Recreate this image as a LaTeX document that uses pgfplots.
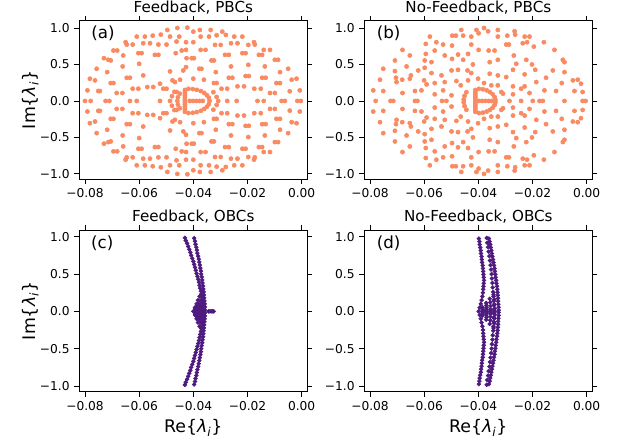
\documentclass[border=0pt]{standalone}
\usepackage{pgfplots}
\pgfplotsset{compat=1.18}
\usepackage{fontspec}
\setmainfont{DejaVu Sans}

\definecolor{pbc}{RGB}{250,138,98}
\definecolor{obc}{RGB}{78,26,128}

\newcommand{\lam}{\textit{λ}\textsubscript{\textit{i}}}

\pgfplotsset{
  panel/.style={
    scale only axis,
    width=164.2pt,
    xmin=-0.0821, xmax=0.0021,
    xtick={-0.08,-0.06,-0.04,-0.02,0},
    xticklabels={−0.08,−0.06,−0.04,−0.02,0.00},
    ytick={-1,-0.5,0,0.5,1},
    yticklabels={−1.0,−0.5,0.0,0.5,1.0},
    scaled x ticks=false,
    tick align=outside,
    major tick length=3.5pt,
    tick style={black, line width=0.6pt},
    axis line style={line width=0.6pt},
    ticklabel style={font=\fontsize{8.8}{10}\selectfont},
    every axis title/.style={at={(axis description cs:0.5,1)}, anchor=base, yshift=5.8pt,
                 font=\fontsize{10.9}{13}\selectfont},
    every axis x label/.style={at={(axis description cs:0.5,0)}, anchor=base, yshift=-29.5pt,
                  font=\fontsize{12.5}{15}\selectfont},
    every axis y label/.style={at={(axis description cs:-0.215,0.5)}, anchor=center, rotate=90,
                  font=\fontsize{12.5}{15}\selectfont},
  },
  pbcdots/.style={only marks, mark=*, mark size=1.5pt, color=pbc, mark options={draw=none, fill=pbc}},
  obcdots/.style={only marks, mark=*, mark size=1.4pt, color=obc, mark options={draw=none, fill=obc}},
  toprow/.style={height=114.0pt, ymin=-1.07, ymax=1.10},
  botrow/.style={height=116.4pt, ymin=-1.076, ymax=1.09},
}

\begin{document}
\begin{tikzpicture}
\path[use as bounding box] (0,0) rectangle (453.6pt,-320.4pt);

% ---------------- (a) Feedback, PBCs ----------------
\begin{axis}[panel, toprow, at={(57.1pt,-14.9pt)}, anchor=north west,
  title={Feedback, PBCs}, ylabel={Im\{\lam\}}]
\addplot[pbcdots] coordinates {
(-0.0496,0.973) (-0.0459,1.000) (-0.0422,1.005) (-0.0520,0.909) (-0.0486,0.882) (-0.0452,0.882) (-0.0609,0.882) (-0.0579,0.882) (-0.0550,0.895)
(-0.0650,0.805) (-0.0646,0.773) (-0.0624,0.773) (-0.0585,0.791) (-0.0560,0.791) (-0.0529,0.773) (-0.0499,0.773) (-0.0462,0.814) (-0.0427,0.805)
(-0.0695,0.691) (-0.0681,0.691) (-0.0443,0.691) (-0.0427,0.700)
(-0.0730,0.586) (-0.0714,0.564) (-0.0705,0.555) (-0.0659,0.623) (-0.0603,0.655) (-0.0591,0.655) (-0.0542,0.632) (-0.0529,0.632) (-0.0465,0.655) (-0.0425,0.586)
(-0.0661,0.473) (-0.0600,0.509) (-0.0757,0.441) (-0.0718,0.395) (-0.0486,0.405) (-0.0437,0.418) (-0.0427,0.464)
(-0.0585,0.350) (-0.0782,0.305) (-0.0763,0.282) (-0.0646,0.318) (-0.0634,0.318) (-0.0705,0.245) (-0.0695,0.245) (-0.0523,0.236) (-0.0477,0.282) (-0.0449,0.291) (-0.0468,0.259)
(-0.0791,0.145) (-0.0751,0.136) (-0.0745,0.136) (-0.0683,0.109) (-0.0662,0.109) (-0.0624,0.168) (-0.0603,0.168) (-0.0570,0.191) (-0.0548,0.191) (-0.0511,0.168) (-0.0499,0.168) (-0.0462,0.123)
(-0.0400,0.950) (-0.0376,0.973) (-0.0336,0.973) (-0.0293,0.950) (-0.0280,0.905) (-0.0373,0.882) (-0.0342,0.882) (-0.0314,0.900) (-0.0249,0.882) (-0.0219,0.882)
(-0.0400,0.805) (-0.0320,0.768) (-0.0299,0.768) (-0.0261,0.791) (-0.0237,0.791) (-0.0197,0.768) (-0.0176,0.805) (-0.0173,0.773)
(-0.0373,0.700) (-0.0355,0.700) (-0.0140,0.700) (-0.0117,0.700)
(-0.0406,0.586) (-0.0398,0.586) (-0.0283,0.632) (-0.0269,0.632) (-0.0219,0.655) (-0.0207,0.655) (-0.0158,0.632) (-0.0146,0.632) (-0.0099,0.564) (-0.0087,0.564)
(-0.0333,0.555) (-0.0324,0.555) (-0.0261,0.473) (-0.0197,0.495) (-0.0136,0.473) (-0.0050,0.441) (-0.0378,0.441) (-0.0370,0.441) (-0.0317,0.395) (-0.0080,0.395)
(-0.0400,0.305) (-0.0361,0.291) (-0.0269,0.318) (-0.0256,0.318) (-0.0207,0.341) (-0.0195,0.341) (-0.0146,0.318) (-0.0133,0.318) (-0.0037,0.291) (-0.0019,0.305)
(-0.0324,0.245) (-0.0314,0.245) (-0.0093,0.245) (-0.0080,0.245)
(-0.0296,0.168) (-0.0275,0.168) (-0.0237,0.200) (-0.0213,0.200) (-0.0175,0.168) (-0.0151,0.168) (-0.0117,0.109) (-0.0099,0.109) (-0.0044,0.132) (-0.0007,0.145)
(-0.0496,-0.973) (-0.0459,-1.000) (-0.0422,-1.005) (-0.0520,-0.909) (-0.0486,-0.882) (-0.0452,-0.882) (-0.0609,-0.882) (-0.0579,-0.882) (-0.0550,-0.895)
(-0.0650,-0.805) (-0.0646,-0.773) (-0.0624,-0.773) (-0.0585,-0.791) (-0.0560,-0.791) (-0.0529,-0.773) (-0.0499,-0.773) (-0.0462,-0.814) (-0.0427,-0.805)
(-0.0695,-0.691) (-0.0681,-0.691) (-0.0443,-0.691) (-0.0427,-0.700)
(-0.0730,-0.586) (-0.0714,-0.564) (-0.0705,-0.555) (-0.0659,-0.623) (-0.0603,-0.655) (-0.0591,-0.655) (-0.0542,-0.632) (-0.0529,-0.632) (-0.0465,-0.655) (-0.0425,-0.586)
(-0.0661,-0.473) (-0.0600,-0.509) (-0.0757,-0.441) (-0.0718,-0.395) (-0.0486,-0.405) (-0.0437,-0.418) (-0.0427,-0.464)
(-0.0585,-0.350) (-0.0782,-0.305) (-0.0763,-0.282) (-0.0646,-0.318) (-0.0634,-0.318) (-0.0705,-0.245) (-0.0695,-0.245) (-0.0523,-0.236) (-0.0477,-0.282) (-0.0449,-0.291) (-0.0468,-0.259)
(-0.0791,-0.145) (-0.0751,-0.136) (-0.0745,-0.136) (-0.0683,-0.109) (-0.0662,-0.109) (-0.0624,-0.168) (-0.0603,-0.168) (-0.0570,-0.191) (-0.0548,-0.191) (-0.0511,-0.168) (-0.0499,-0.168) (-0.0462,-0.123)
(-0.0400,-0.950) (-0.0376,-0.973) (-0.0336,-0.973) (-0.0293,-0.950) (-0.0280,-0.905) (-0.0373,-0.882) (-0.0342,-0.882) (-0.0314,-0.900) (-0.0249,-0.882) (-0.0219,-0.882)
(-0.0400,-0.805) (-0.0320,-0.768) (-0.0299,-0.768) (-0.0261,-0.791) (-0.0237,-0.791) (-0.0197,-0.768) (-0.0176,-0.805) (-0.0173,-0.773)
(-0.0373,-0.700) (-0.0355,-0.700) (-0.0140,-0.700) (-0.0117,-0.700)
(-0.0406,-0.586) (-0.0398,-0.586) (-0.0283,-0.632) (-0.0269,-0.632) (-0.0219,-0.655) (-0.0207,-0.655) (-0.0158,-0.632) (-0.0146,-0.632) (-0.0099,-0.564) (-0.0087,-0.564)
(-0.0333,-0.555) (-0.0324,-0.555) (-0.0261,-0.473) (-0.0197,-0.495) (-0.0136,-0.473) (-0.0050,-0.441) (-0.0378,-0.441) (-0.0370,-0.441) (-0.0317,-0.395) (-0.0080,-0.395)
(-0.0400,-0.305) (-0.0361,-0.291) (-0.0269,-0.318) (-0.0256,-0.318) (-0.0207,-0.341) (-0.0195,-0.341) (-0.0146,-0.318) (-0.0133,-0.318) (-0.0037,-0.291) (-0.0019,-0.305)
(-0.0324,-0.245) (-0.0314,-0.245) (-0.0093,-0.245) (-0.0080,-0.245)
(-0.0296,-0.168) (-0.0275,-0.168) (-0.0237,-0.200) (-0.0213,-0.200) (-0.0175,-0.168) (-0.0151,-0.168) (-0.0117,-0.109) (-0.0099,-0.109) (-0.0044,-0.132) (-0.0007,-0.145)
(-0.0800,0) (-0.0779,0) (-0.0724,0) (-0.0710,0) (-0.0634,0) (-0.0609,0) (-0.0523,0) (-0.0486,0) (-0.0275,0) (-0.0240,0) (-0.0163,0) (-0.0140,0) (-0.0074,0) (-0.0062,0) (-0.0016,0) (-0.0003,0)
(-0.0431,0) (-0.0431,0.025) (-0.0431,0.05) (-0.0431,0.075) (-0.0431,0.10) (-0.0431,0.125) (-0.0431,0.15)
(-0.0431,-0.025) (-0.0431,-0.05) (-0.0431,-0.075) (-0.0431,-0.10) (-0.0431,-0.125) (-0.0431,-0.15)
(-0.0413,0) (-0.0401,0) (-0.0389,0) (-0.0377,0) (-0.0365,0)
(-0.0418,0.166) (-0.0402,0.162) (-0.0387,0.152) (-0.0372,0.135) (-0.0360,0.110) (-0.0350,0.080) (-0.0343,0.045) (-0.0340,0)
(-0.0418,-0.166) (-0.0402,-0.162) (-0.0387,-0.152) (-0.0372,-0.135) (-0.0360,-0.110) (-0.0350,-0.080) (-0.0343,-0.045)
(-0.0450,0.10) (-0.0457,0.05) (-0.0459,0) (-0.0450,-0.10) (-0.0457,-0.05)
(-0.0470,0.125) (-0.0479,0.065) (-0.0470,-0.125) (-0.0479,-0.065)
(-0.0326,0.12) (-0.0314,0.055) (-0.0308,0) (-0.0326,-0.12) (-0.0314,-0.055)
};
\node[anchor=west, inner sep=0pt, font=\fontsize{12}{14}\selectfont] at (axis description cs:0.052,0.921) {(a)};
\end{axis}

% ---------------- (b) No-Feedback, PBCs ----------------
\begin{axis}[panel, toprow, at={(262.3pt,-14.9pt)}, anchor=north west,
  title={No-Feedback, PBCs}]
\addplot[pbcdots] coordinates {
(-0.0463,0.973) (-0.0456,0.895) (-0.0407,0.973) (-0.0399,0.927) (-0.0379,1.000) (-0.0364,0.955) (-0.0328,0.973) (-0.0328,0.882) (-0.0293,0.895) (-0.0266,0.955) (-0.0264,0.909) (-0.0496,0.895) (-0.0483,0.895) (-0.0426,0.882) (-0.0579,0.882) (-0.0555,0.805) (-0.0530,0.773)
(-0.0594,0.782) (-0.0497,0.759) (-0.0426,0.773) (-0.0297,0.773) (-0.0287,0.773) (-0.0236,0.791) (-0.0220,0.805) (-0.0211,0.882) (-0.0229,0.882)
(-0.0680,0.700) (-0.0653,0.623) (-0.0594,0.645) (-0.0561,0.691) (-0.0524,0.623) (-0.0475,0.636) (-0.0438,0.645) (-0.0399,0.700) (-0.0362,0.691) (-0.0340,0.691) (-0.0269,0.623) (-0.0195,0.745) (-0.0158,0.805) (-0.0119,0.700)
(-0.0708,0.555) (-0.0665,0.473) (-0.0598,0.555) (-0.0573,0.532) (-0.0497,0.577) (-0.0456,0.564) (-0.0420,0.500) (-0.0358,0.532) (-0.0328,0.564) (-0.0260,0.509) (-0.0223,0.564) (-0.0202,0.500) (-0.0088,0.564) (-0.0082,0.532)
(-0.0751,0.441) (-0.0708,0.409) (-0.0681,0.291) (-0.0649,0.350) (-0.0622,0.418) (-0.0598,0.455) (-0.0573,0.382) (-0.0536,0.350) (-0.0499,0.418) (-0.0475,0.427) (-0.0440,0.418) (-0.0426,0.382) (-0.0401,0.305) (-0.0358,0.373) (-0.0328,0.350) (-0.0297,0.327) (-0.0272,0.427) (-0.0229,0.364) (-0.0190,0.427) (-0.0125,0.418) (-0.0082,0.395) (-0.0051,0.282)
(-0.0763,0.291) (-0.0704,0.318) (-0.0702,0.259) (-0.0653,0.305) (-0.0600,0.282) (-0.0591,0.227) (-0.0561,0.245) (-0.0524,0.259) (-0.0481,0.273) (-0.0465,0.214) (-0.0438,0.282) (-0.0379,0.245) (-0.0352,0.214) (-0.0328,0.214) (-0.0272,0.200) (-0.0229,0.200) (-0.0186,0.259) (-0.0150,0.318) (-0.0092,0.245) (-0.0033,0.291) (-0.0021,0.236)
(-0.0788,0.145) (-0.0751,0.136) (-0.0680,0.109) (-0.0634,0.136) (-0.0610,0.145) (-0.0561,0.091) (-0.0530,0.145) (-0.0499,0.077) (-0.0315,0.123) (-0.0272,0.091) (-0.0242,0.168) (-0.0211,0.109) (-0.0156,0.145) (-0.0113,0.136) (-0.0045,0.136) (-0.0015,0.123)
(-0.0463,-0.973) (-0.0456,-0.895) (-0.0407,-0.973) (-0.0399,-0.927) (-0.0379,-1.000) (-0.0364,-0.955) (-0.0328,-0.973) (-0.0328,-0.882) (-0.0293,-0.895) (-0.0266,-0.955) (-0.0264,-0.909) (-0.0496,-0.895) (-0.0483,-0.895) (-0.0426,-0.882) (-0.0579,-0.882) (-0.0555,-0.805) (-0.0530,-0.773)
(-0.0594,-0.782) (-0.0497,-0.759) (-0.0426,-0.773) (-0.0297,-0.773) (-0.0287,-0.773) (-0.0236,-0.791) (-0.0220,-0.805) (-0.0211,-0.882) (-0.0229,-0.882)
(-0.0680,-0.700) (-0.0653,-0.623) (-0.0594,-0.645) (-0.0561,-0.691) (-0.0524,-0.623) (-0.0475,-0.636) (-0.0438,-0.645) (-0.0399,-0.700) (-0.0362,-0.691) (-0.0340,-0.691) (-0.0269,-0.623) (-0.0195,-0.745) (-0.0158,-0.805) (-0.0119,-0.700)
(-0.0708,-0.555) (-0.0665,-0.473) (-0.0598,-0.555) (-0.0573,-0.532) (-0.0497,-0.577) (-0.0456,-0.564) (-0.0420,-0.500) (-0.0358,-0.532) (-0.0328,-0.564) (-0.0260,-0.509) (-0.0223,-0.564) (-0.0202,-0.500) (-0.0088,-0.564) (-0.0082,-0.532)
(-0.0751,-0.441) (-0.0708,-0.409) (-0.0681,-0.291) (-0.0649,-0.350) (-0.0622,-0.418) (-0.0598,-0.455) (-0.0573,-0.382) (-0.0536,-0.350) (-0.0499,-0.418) (-0.0475,-0.427) (-0.0440,-0.418) (-0.0426,-0.382) (-0.0401,-0.305) (-0.0358,-0.373) (-0.0328,-0.350) (-0.0297,-0.327) (-0.0272,-0.427) (-0.0229,-0.364) (-0.0190,-0.427) (-0.0125,-0.418) (-0.0082,-0.395) (-0.0051,-0.282)
(-0.0763,-0.291) (-0.0704,-0.318) (-0.0702,-0.259) (-0.0653,-0.305) (-0.0600,-0.282) (-0.0591,-0.227) (-0.0561,-0.245) (-0.0524,-0.259) (-0.0481,-0.273) (-0.0465,-0.214) (-0.0438,-0.282) (-0.0379,-0.245) (-0.0352,-0.214) (-0.0328,-0.214) (-0.0272,-0.200) (-0.0229,-0.200) (-0.0186,-0.259) (-0.0150,-0.318) (-0.0092,-0.245) (-0.0033,-0.291) (-0.0021,-0.236)
(-0.0788,-0.145) (-0.0751,-0.136) (-0.0680,-0.109) (-0.0634,-0.136) (-0.0610,-0.145) (-0.0561,-0.091) (-0.0530,-0.145) (-0.0499,-0.077) (-0.0315,-0.123) (-0.0272,-0.091) (-0.0242,-0.168) (-0.0211,-0.109) (-0.0156,-0.145) (-0.0113,-0.136) (-0.0045,-0.136) (-0.0015,-0.123)
(-0.0779,0) (-0.0724,0) (-0.0714,0) (-0.0634,0) (-0.0625,0) (-0.0534,0) (-0.0518,0) (-0.0285,0) (-0.0242,0) (-0.0199,0) (-0.0174,0) (-0.0162,0) (-0.0082,0) (-0.0015,0) (-0.0004,0)
(-0.0411,0) (-0.0411,0.025) (-0.0411,0.05) (-0.0411,0.075) (-0.0411,0.10) (-0.0411,0.125) (-0.0411,0.15)
(-0.0411,-0.025) (-0.0411,-0.05) (-0.0411,-0.075) (-0.0411,-0.10) (-0.0411,-0.125) (-0.0411,-0.15)
(-0.0398,0) (-0.0386,0) (-0.0374,0) (-0.0362,0) (-0.0351,0)
(-0.0398,0.166) (-0.0383,0.160) (-0.0369,0.145) (-0.0357,0.122) (-0.0347,0.092) (-0.0340,0.055) (-0.0337,0.018)
(-0.0398,-0.166) (-0.0383,-0.160) (-0.0369,-0.145) (-0.0357,-0.122) (-0.0347,-0.092) (-0.0340,-0.055) (-0.0337,-0.018)
(-0.0444,0.12) (-0.0451,0.07) (-0.0454,0.02) (-0.0444,-0.12) (-0.0451,-0.07) (-0.0454,-0.02)
(-0.0309,0.10) (-0.0309,-0.10)
};
\node[anchor=west, inner sep=0pt, font=\fontsize{12}{14}\selectfont] at (axis description cs:0.054,0.921) {(b)};
\end{axis}

% ---------------- (c) Feedback, OBCs ----------------
\begin{axis}[panel, botrow, at={(57.1pt,-165.6pt)}, anchor=north west,
  title={Feedback, OBCs}, xlabel={Re\{\lam\}}, ylabel={Im\{\lam\}}]
\addplot[obcdots] coordinates {
(-0.0431,0.985) (-0.0428,0.95) (-0.0423,0.91) (-0.0419,0.87) (-0.0415,0.83) (-0.0411,0.79) (-0.0408,0.75) (-0.0404,0.71) (-0.0400,0.67) (-0.0397,0.63) (-0.0394,0.59) (-0.0391,0.55) (-0.0388,0.51)
(-0.0385,0.47) (-0.0382,0.43) (-0.0379,0.39) (-0.0377,0.35) (-0.0375,0.31) (-0.0372,0.27) (-0.0371,0.23) (-0.0369,0.19) (-0.0367,0.15) (-0.0366,0.11) (-0.0365,0.07) (-0.0364,0.03)
(-0.0431,-0.985) (-0.0428,-0.95) (-0.0423,-0.91) (-0.0419,-0.87) (-0.0415,-0.83) (-0.0411,-0.79) (-0.0408,-0.75) (-0.0404,-0.71) (-0.0400,-0.67) (-0.0397,-0.63) (-0.0394,-0.59) (-0.0391,-0.55) (-0.0388,-0.51)
(-0.0385,-0.47) (-0.0382,-0.43) (-0.0379,-0.39) (-0.0377,-0.35) (-0.0375,-0.31) (-0.0372,-0.27) (-0.0371,-0.23) (-0.0369,-0.19) (-0.0367,-0.15) (-0.0366,-0.11) (-0.0365,-0.07) (-0.0364,-0.03)
(-0.0397,0.98) (-0.0394,0.94) (-0.0392,0.90) (-0.0389,0.86) (-0.0387,0.82) (-0.0385,0.78) (-0.0382,0.74) (-0.0380,0.70) (-0.0378,0.66) (-0.0376,0.62) (-0.0374,0.58) (-0.0372,0.54) (-0.0371,0.50)
(-0.0369,0.46) (-0.0367,0.42) (-0.0366,0.38) (-0.0364,0.34) (-0.0363,0.30) (-0.0362,0.26) (-0.0361,0.22) (-0.0360,0.18) (-0.0359,0.14) (-0.0358,0.10) (-0.0357,0.06) (-0.0357,0.02)
(-0.0397,-0.98) (-0.0394,-0.94) (-0.0392,-0.90) (-0.0389,-0.86) (-0.0387,-0.82) (-0.0385,-0.78) (-0.0382,-0.74) (-0.0380,-0.70) (-0.0378,-0.66) (-0.0376,-0.62) (-0.0374,-0.58) (-0.0372,-0.54) (-0.0371,-0.50)
(-0.0369,-0.46) (-0.0367,-0.42) (-0.0366,-0.38) (-0.0364,-0.34) (-0.0363,-0.30) (-0.0362,-0.26) (-0.0361,-0.22) (-0.0360,-0.18) (-0.0359,-0.14) (-0.0358,-0.10) (-0.0357,-0.06) (-0.0357,-0.02)
(-0.0394,0.05) (-0.0388,0.10) (-0.0383,0.15) (-0.0377,0.20)
(-0.0393,0.036) (-0.0387,0.072) (-0.0380,0.108) (-0.0374,0.144)
(-0.0393,0.022) (-0.0386,0.044) (-0.0378,0.066) (-0.0371,0.088)
(-0.0392,0.010) (-0.0385,0.020) (-0.0377,0.030) (-0.0370,0.040)
(-0.0394,-0.05) (-0.0388,-0.10) (-0.0383,-0.15) (-0.0377,-0.20)
(-0.0393,-0.036) (-0.0387,-0.072) (-0.0380,-0.108) (-0.0374,-0.144)
(-0.0393,-0.022) (-0.0386,-0.044) (-0.0378,-0.066) (-0.0371,-0.088)
(-0.0392,-0.010) (-0.0385,-0.020) (-0.0377,-0.030) (-0.0370,-0.040)
(-0.0400,0) (-0.0392,0) (-0.0384,0) (-0.0376,0) (-0.0368,0)
(-0.0344,0) (-0.0339,0) (-0.0334,0) (-0.0329,0) (-0.0325,0)
};
\node[anchor=west, inner sep=0pt, font=\fontsize{12}{14}\selectfont] at (axis description cs:0.051,0.919) {(c)};
\end{axis}

% ---------------- (d) No-Feedback, OBCs ----------------
\begin{axis}[panel, botrow, at={(262.3pt,-165.6pt)}, anchor=north west,
  title={No-Feedback, OBCs}, xlabel={Re\{\lam\}}]
\addplot[obcdots] coordinates {
(-0.0398,0.975) (-0.0396,0.935) (-0.0395,0.895) (-0.0393,0.855) (-0.0391,0.815) (-0.0390,0.775) (-0.0388,0.735) (-0.0387,0.695) (-0.0386,0.655) (-0.0384,0.615) (-0.0383,0.575) (-0.0382,0.535) (-0.0381,0.495) (-0.0380,0.455) (-0.0379,0.415)
(-0.0380,0.375) (-0.0381,0.335) (-0.0382,0.295) (-0.0383,0.25) (-0.0385,0.20) (-0.0388,0.15) (-0.0391,0.10) (-0.0395,0.05) (-0.0399,0)
(-0.0398,-0.975) (-0.0396,-0.935) (-0.0395,-0.895) (-0.0393,-0.855) (-0.0391,-0.815) (-0.0390,-0.775) (-0.0388,-0.735) (-0.0387,-0.695) (-0.0386,-0.655) (-0.0384,-0.615) (-0.0383,-0.575) (-0.0382,-0.535) (-0.0381,-0.495) (-0.0380,-0.455) (-0.0379,-0.415)
(-0.0380,-0.375) (-0.0381,-0.335) (-0.0382,-0.295) (-0.0383,-0.25) (-0.0385,-0.20) (-0.0388,-0.15) (-0.0391,-0.10) (-0.0395,-0.05)
(-0.0369,0.984) (-0.0367,0.92) (-0.0364,0.86) (-0.0362,0.80) (-0.0359,0.74) (-0.0357,0.68) (-0.0355,0.62) (-0.0353,0.56) (-0.0351,0.50) (-0.0350,0.44) (-0.0348,0.38) (-0.0347,0.32) (-0.0345,0.26) (-0.0344,0.20) (-0.0343,0.14) (-0.0342,0.08) (-0.0342,0.02)
(-0.0369,-0.984) (-0.0367,-0.92) (-0.0364,-0.86) (-0.0362,-0.80) (-0.0359,-0.74) (-0.0357,-0.68) (-0.0355,-0.62) (-0.0353,-0.56) (-0.0351,-0.50) (-0.0350,-0.44) (-0.0348,-0.38) (-0.0347,-0.32) (-0.0345,-0.26) (-0.0344,-0.20) (-0.0343,-0.14) (-0.0342,-0.08) (-0.0342,-0.02)
(-0.0361,0.975) (-0.0358,0.935) (-0.0356,0.895) (-0.0354,0.855) (-0.0352,0.815) (-0.0350,0.775) (-0.0348,0.735) (-0.0346,0.695) (-0.0344,0.655) (-0.0342,0.615) (-0.0340,0.575) (-0.0339,0.535) (-0.0337,0.495)
(-0.0336,0.455) (-0.0334,0.415) (-0.0333,0.375) (-0.0331,0.335) (-0.0330,0.295) (-0.0329,0.255) (-0.0328,0.215) (-0.0327,0.175) (-0.0327,0.135) (-0.0326,0.095) (-0.0325,0.055) (-0.0325,0.015)
(-0.0361,-0.975) (-0.0358,-0.935) (-0.0356,-0.895) (-0.0354,-0.855) (-0.0352,-0.815) (-0.0350,-0.775) (-0.0348,-0.735) (-0.0346,-0.695) (-0.0344,-0.655) (-0.0342,-0.615) (-0.0340,-0.575) (-0.0339,-0.535) (-0.0337,-0.495)
(-0.0336,-0.455) (-0.0334,-0.415) (-0.0333,-0.375) (-0.0331,-0.335) (-0.0330,-0.295) (-0.0329,-0.255) (-0.0328,-0.215) (-0.0327,-0.175) (-0.0327,-0.135) (-0.0326,-0.095) (-0.0325,-0.055) (-0.0325,-0.015)
(-0.0385,0.056) (-0.0371,0.112) (-0.0358,0.168) (-0.0344,0.224)
(-0.0385,0.040) (-0.0370,0.080) (-0.0356,0.120) (-0.0341,0.160)
(-0.0384,0.024) (-0.0370,0.048) (-0.0355,0.072) (-0.0341,0.096)
(-0.0384,0.010) (-0.0369,0.020) (-0.0355,0.030) (-0.0340,0.040)
(-0.0385,-0.056) (-0.0371,-0.112) (-0.0358,-0.168) (-0.0344,-0.224)
(-0.0385,-0.040) (-0.0370,-0.080) (-0.0356,-0.120) (-0.0341,-0.160)
(-0.0384,-0.024) (-0.0370,-0.048) (-0.0355,-0.072) (-0.0341,-0.096)
(-0.0384,-0.010) (-0.0369,-0.020) (-0.0355,-0.030) (-0.0340,-0.040)
(-0.0384,0) (-0.0369,0) (-0.0355,0) (-0.0340,0)
};
\node[anchor=west, inner sep=0pt, font=\fontsize{12}{14}\selectfont] at (axis description cs:0.054,0.919) {(d)};
\end{axis}
\end{tikzpicture}
\end{document}
